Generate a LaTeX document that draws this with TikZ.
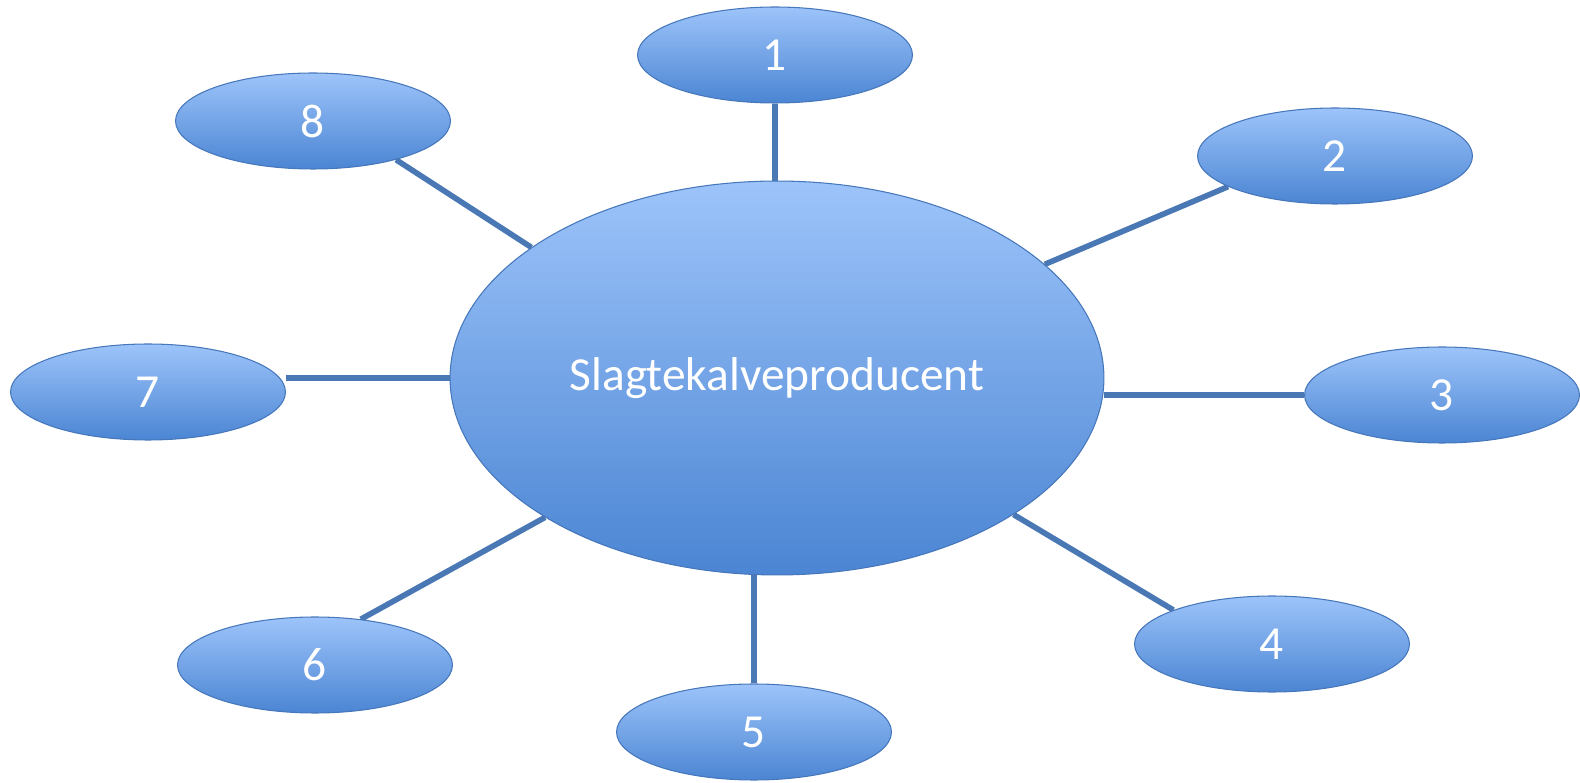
\documentclass[tikz,border=0pt]{standalone}
\usepackage{fontspec}
\setmainfont{Carlito}
\usetikzlibrary{shapes.geometric,backgrounds}
\definecolor{topblue}{HTML}{9DC4FA}
\definecolor{botblue}{HTML}{4B85D3}
\definecolor{edgeblue}{HTML}{4677BB}
\definecolor{linkblue}{HTML}{4A78B4}
\tikzset{
  bubble/.style={ellipse, draw=edgeblue, line width=0.6pt, top color=topblue, bottom color=botblue,
    text=white, inner sep=0pt, font=\fontsize{27}{32}\selectfont},
  hub/.style={bubble, minimum width=13.08cm, minimum height=7.88cm},
  leaf/.style={bubble, minimum width=5.5cm, minimum height=1.92cm},
  link/.style={draw=linkblue, line width=3.2pt}
}
\begin{document}
\begin{tikzpicture}[x={(0.02cm,0)}, y={(0,-0.02cm)}]
\useasboundingbox (0,0) rectangle (1580,783);
\node[hub] (c) at (777,378) {Slagtekalveproducent};
\node[leaf] (n1) at (775,55) {1};
\node[leaf] (n2) at (1335,156) {2};
\node[leaf] (n3) at (1442,395) {3};
\node[leaf] (n4) at (1272,644) {4};
\node[leaf] (n5) at (754,732) {5};
\node[leaf] (n6) at (315,665) {6};
\node[leaf] (n7) at (148,392) {7};
\node[leaf] (n8) at (313,121) {8};
\begin{scope}[on background layer]
\draw[link] (n1.south) -- (n1.south |- c.north);
\draw[link] (c.23.3) -- (n2.196.4);
\draw[link] (n3.west) -- (n3.west -| c.east);
\draw[link] (c.330) -- (n4.161.4);
\draw[link] (n5.north) -- (n5.north |- c.south);
\draw[link] (c.211.3) -- (n6.45);
\draw[link] (c.west) -- (c.west -| n7.east);
\draw[link] (c.152.1) -- (n8.335.9);
\end{scope}
\end{tikzpicture}
\end{document}
